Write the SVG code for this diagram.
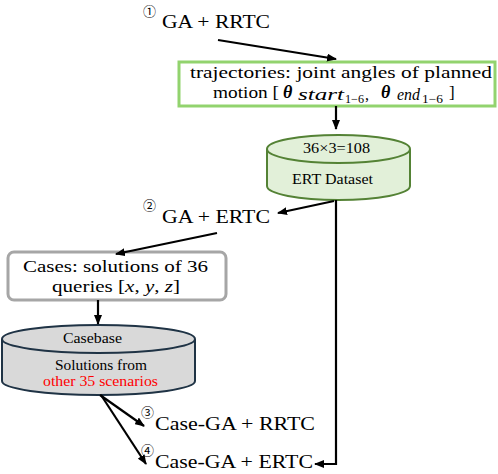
<svg xmlns="http://www.w3.org/2000/svg" width="498" height="474" viewBox="0 0 498 474">
<defs>
<marker id="ah" markerWidth="10" markerHeight="8" refX="9" refY="4" orient="auto" markerUnits="userSpaceOnUse">
<path d="M0,0 L10,4 L0,8 Z" fill="#000"/>
</marker>
<style>
.t{font-family:"Liberation Serif","Times New Roman",serif;fill:#000}
.c{font-family:"Noto Sans CJK JP","DejaVu Sans",sans-serif;font-size:13px;fill:#000}
.e{stroke:#000;stroke-width:2.2;fill:none}
</style>
</defs>
<rect width="498" height="474" fill="#fff"/>
<g id="label1">
<text class="c" x="143" y="16">①</text>
<text class="t" x="162" y="28" font-size="19" textLength="108" lengthAdjust="spacingAndGlyphs">GA + RRTC</text>
</g>
<g id="trajectories">
<rect x="179" y="62" width="316" height="44" fill="#fff" stroke="#92d36e" stroke-width="3"/>
<text class="t" x="190" y="78" font-size="17" textLength="302" lengthAdjust="spacingAndGlyphs">trajectories: joint angles of planned</text>
<text class="t" x="213" y="98" font-size="17" textLength="66" lengthAdjust="spacingAndGlyphs">motion [</text>
<text class="t" x="283" y="98" font-size="18" font-weight="bold" font-style="italic">θ</text>
<text class="t" x="298" y="100" font-size="16" font-style="italic" textLength="46" lengthAdjust="spacingAndGlyphs">start</text>
<text class="t" x="345" y="103" font-size="12" textLength="19" lengthAdjust="spacingAndGlyphs">1−6</text>
<text class="t" x="365" y="100" font-size="16">,</text>
<text class="t" x="381" y="98" font-size="18" font-weight="bold" font-style="italic">θ</text>
<text class="t" x="397" y="100" font-size="16" font-style="italic" textLength="23" lengthAdjust="spacingAndGlyphs">end</text>
<text class="t" x="422" y="103" font-size="12" textLength="21" lengthAdjust="spacingAndGlyphs">1−6</text>
<text class="t" x="449" y="98" font-size="17">]</text>
</g>
<g id="ert">
<path d="M267,149 L267,186 A71.5,14 0 0 0 410,186 L410,149" fill="#e2f0d9" stroke="#548235" stroke-width="2"/>
<ellipse cx="338.5" cy="149" rx="71.5" ry="14" fill="#e2f0d9" stroke="#548235" stroke-width="2"/>
<text class="t" x="303" y="153" font-size="14" textLength="67" lengthAdjust="spacingAndGlyphs">36×3=108</text>
<text class="t" x="292" y="184" font-size="14" textLength="81" lengthAdjust="spacingAndGlyphs">ERT Dataset</text>
</g>
<g id="label2">
<text class="c" x="143" y="210">②</text>
<text class="t" x="162" y="223" font-size="19" textLength="108" lengthAdjust="spacingAndGlyphs">GA + ERTC</text>
</g>
<g id="cases">
<rect x="8" y="252" width="218" height="48" rx="6" fill="#fff" stroke="#a6a6a6" stroke-width="3"/>
<text class="t" x="23" y="272" font-size="17" textLength="185" lengthAdjust="spacingAndGlyphs">Cases: solutions of 36</text>
<text class="t" x="52" y="292" font-size="17" textLength="128" lengthAdjust="spacingAndGlyphs">queries [<tspan font-style="italic">x</tspan>, <tspan font-style="italic">y</tspan>, <tspan font-style="italic">z</tspan>]</text>
</g>
<g id="casebase">
<path d="M2,339 L2,381 A96.5,14 0 0 0 195,381 L195,339" fill="#d9d9d9" stroke="#1f3345" stroke-width="2"/>
<ellipse cx="98.5" cy="339" rx="96.5" ry="14" fill="#d9d9d9" stroke="#1f3345" stroke-width="2"/>
<text class="t" x="63" y="343" font-size="14" textLength="59" lengthAdjust="spacingAndGlyphs">Casebase</text>
<text class="t" x="55" y="370" font-size="14" textLength="92" lengthAdjust="spacingAndGlyphs">Solutions from</text>
<text class="t" x="43" y="386" font-size="14" textLength="115" lengthAdjust="spacingAndGlyphs" style="fill:#ff0000">other 35 scenarios</text>
</g>
<g id="label3">
<text class="c" x="141" y="417">③</text>
<text class="t" x="155" y="430" font-size="19" textLength="160" lengthAdjust="spacingAndGlyphs">Case-GA + RRTC</text>
</g>
<g id="label4">
<text class="c" x="141" y="455">④</text>
<text class="t" x="155" y="468" font-size="19" textLength="158" lengthAdjust="spacingAndGlyphs">Case-GA + ERTC</text>
</g>
<g id="connectors">
<line class="e" x1="218" y1="40" x2="336" y2="59" marker-end="url(#ah)"/>
<line class="e" x1="336" y1="106" x2="336" y2="129" marker-end="url(#ah)"/>
<line class="e" x1="334" y1="201" x2="278" y2="213" marker-end="url(#ah)"/>
<line class="e" x1="217" y1="233" x2="116" y2="254" marker-end="url(#ah)"/>
<line class="e" x1="98" y1="300" x2="98" y2="324" marker-end="url(#ah)"/>
<line class="e" x1="100" y1="395" x2="144" y2="426" marker-end="url(#ah)"/>
<line class="e" x1="101" y1="395" x2="146" y2="464" marker-end="url(#ah)"/>
<polyline class="e" points="336,200 336,464 315,464" marker-end="url(#ah)"/>
</g>
</svg>
